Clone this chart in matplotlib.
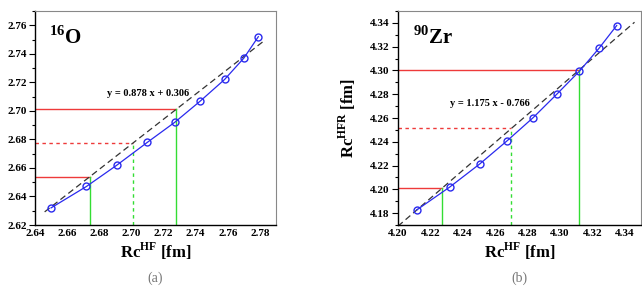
# Rc^HFR vs Rc^HF for 16O and 90Zr, with linear fits
import numpy as np
import matplotlib
matplotlib.use("Agg")
import matplotlib.pyplot as plt
from matplotlib.ticker import MultipleLocator, AutoMinorLocator

plt.rcParams['font.family'] = ['Liberation Serif', 'DejaVu Serif']
plt.rcParams['mathtext.fontset'] = 'custom'
plt.rcParams['mathtext.rm'] = 'Liberation Serif:bold'
plt.rcParams['mathtext.bf'] = 'Liberation Serif:bold'

# 16O data
o_hf = [2.650, 2.672, 2.691, 2.710, 2.727, 2.743, 2.758, 2.770, 2.779]
o_hfr = [2.632, 2.647, 2.662, 2.678, 2.692, 2.707, 2.722, 2.737, 2.752]
o_fit = (0.878, 0.306)
o_fit_range = [2.646, 2.783]
o_marks = [2.674, 2.701, 2.728]

# 90Zr data
zr_hf = [4.2115, 4.232, 4.2505, 4.2675, 4.2835, 4.298, 4.312, 4.324, 4.335]
zr_hfr = [4.1826, 4.202, 4.2214, 4.241, 4.2604, 4.280, 4.2994, 4.3185, 4.3378]
zr_fit = (1.175, -0.766)
zr_fit_range = [4.200, 4.346]
zr_marks = [4.227, 4.270, 4.312]

W, H = 642, 290
fig = plt.figure(figsize=(W / 100, H / 100), dpi=100)

def px_axes(l, r, t, b):
    return fig.add_axes([l / W, 1 - b / H, (r - l) / W, (b - t) / H])

def panel(ax, x, y, fit, frange, marks, xlim, ylim, label, eq, eqpos, cap):
    ax.set_xlim(*xlim)
    ax.set_ylim(*ylim)
    a, b = fit
    fx = np.array(frange)
    ax.plot(fx, a * fx + b, ls=(0, (5, 3)), color='#333333', lw=0.9, zorder=2)
    styles = ['-', (0, (2.5, 2.5)), '-']
    for m, st in zip(marks, styles):
        ym = a * m + b
        ax.plot([xlim[0], m], [ym, ym], color='#ee3a3a', lw=1.0, ls=st, zorder=1)
        ax.plot([m, m], [ylim[0], ym], color='#33dd33', lw=1.0, ls=st, zorder=1)
    ax.plot(x, y, color='#2a2aee', lw=0.9, marker='o', ms=5, mfc='none',
            mec='#2a2aee', mew=1.0, zorder=3)
    ax.text(0.06, 0.93, label, transform=ax.transAxes, fontsize=15,
            fontweight='bold', va='top', ha='left')
    ax.text(eqpos[0], eqpos[1], eq, transform=ax.transAxes, fontsize=7.5,
            fontweight='bold', ha='left', va='center')
    ax.xaxis.set_major_locator(MultipleLocator(0.02))
    ax.yaxis.set_major_locator(MultipleLocator(0.02))
    ax.yaxis.set_minor_locator(AutoMinorLocator(2))
    ax.xaxis.set_major_formatter('{x:.2f}')
    ax.yaxis.set_major_formatter('{x:.2f}')
    ax.tick_params(axis='y', which='major', direction='out', length=4, width=0.8, pad=2)
    ax.tick_params(axis='y', which='minor', direction='out', length=2, width=0.8)
    ax.tick_params(axis='x', which='major', length=0, pad=3)
    for t in ax.get_xticklabels() + ax.get_yticklabels():
        t.set_fontweight('bold')
        t.set_fontsize(8)
    for s in ['top', 'right']:
        ax.spines[s].set_color('#888888')
        ax.spines[s].set_linewidth(0.8)
    for s in ['left', 'bottom']:
        ax.spines[s].set_linewidth(1.0)
    ax.set_xlabel(r'Rc$^{\mathbf{HF}}$ [fm]', fontsize=12, fontweight='bold', labelpad=2)
    ax.set_ylabel(r'Rc$^{\mathbf{HFR}}$ [fm]', fontsize=12, fontweight='bold')
    ax.text(0.5, -0.25, cap, transform=ax.transAxes, fontsize=10, color='#777777',
            ha='center', va='center')

ax1 = px_axes(35, 276, 11, 225)
panel(ax1, o_hf, o_hfr, o_fit, o_fit_range, o_marks, (2.64, 2.79), (2.62, 2.77),
      r'$^{16}$O', 'y = 0.878 x + 0.306', (0.3, 0.615), '(a)')
ax1.yaxis.set_label_coords(-0.19, 0.5)

ax2 = px_axes(398, 641, 11, 225)
panel(ax2, zr_hf, zr_hfr, zr_fit, zr_fit_range, zr_marks, (4.20, 4.35), (4.17, 4.35),
      r'$^{90}$Zr', 'y = 1.175 x - 0.766', (0.215, 0.57), '(b)')
ax2.yaxis.set_label_coords(-0.165, 0.5)

fig.savefig('out.png', dpi=100)
